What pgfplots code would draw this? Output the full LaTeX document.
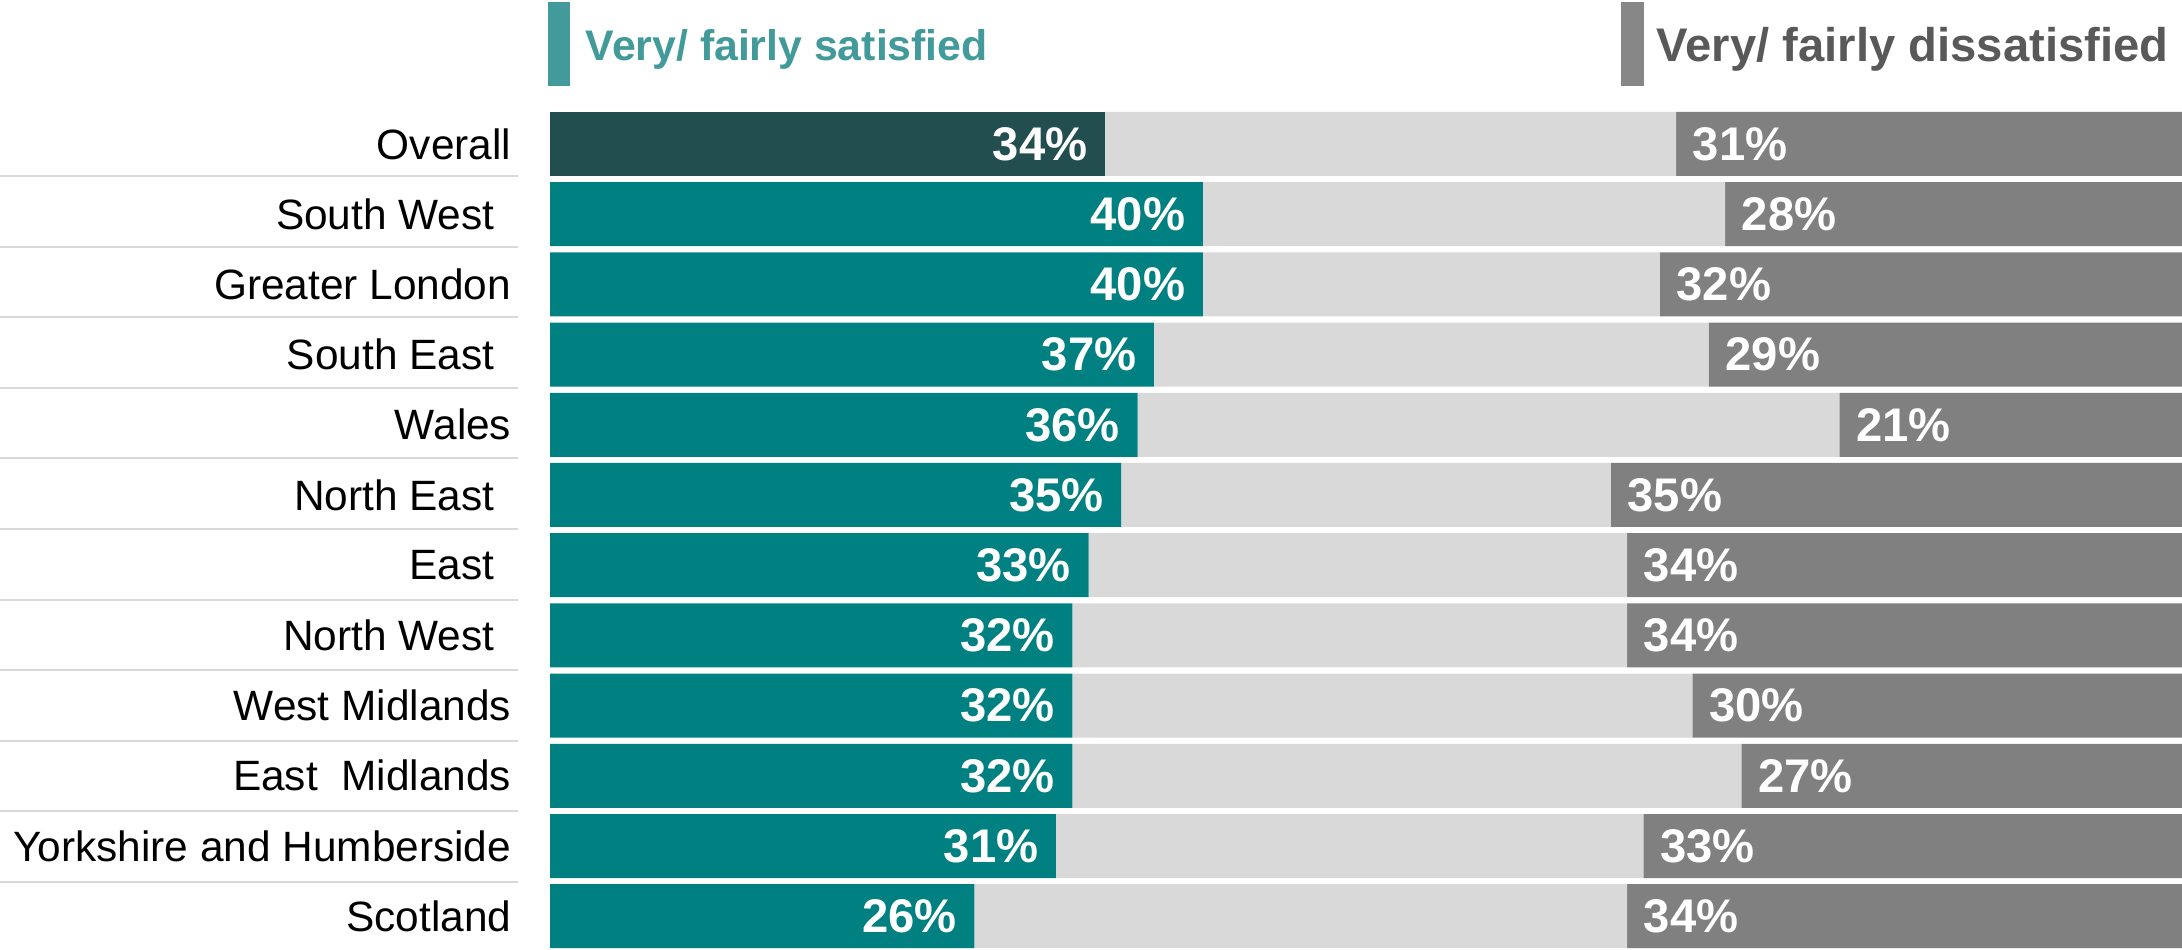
\documentclass[border=0pt]{standalone}
\usepackage{pgfplots}
\pgfplotsset{compat=1.18}
\usepackage{pgfplotstable}
\usepackage{fontspec}
\setmainfont{Liberation Sans}
\definecolor{tealbar}{RGB}{0,128,128}
\definecolor{overallbar}{RGB}{34,78,79}
\definecolor{neutral}{RGB}{217,217,217}
\definecolor{dissat}{RGB}{128,128,128}
\definecolor{legteal}{RGB}{66,154,154}
\definecolor{legrect}{RGB}{135,135,135}
\definecolor{legtext}{RGB}{89,89,89}
\definecolor{sepline}{RGB}{217,217,217}

% idx: 0 = Overall ... 11 = Scotland ; s = satisfied, n = neither, d = dissatisfied
\pgfplotstableread{
idx s n d
0 34 35 31
1 40 32 28
2 40 28 32
3 37 34 29
4 36 43 21
5 35 30 35
6 33 33 34
7 32 34 34
8 32 38 30
9 32 41 27
10 31 36 33
11 26 40 34
}\data

\pgfplotsset{mybase/.style={
  scale only axis, width=408pt, height=210.6pt,
  at={(137.5pt,-0.325pt)}, anchor=south west,
  xmin=0, xmax=100, ymin=-0.5, ymax=11.5, y dir=reverse,
  axis line style={draw=none}, tick style={draw=none},
  xtick=\empty, clip=false}}

\newcommand{\trsp}{\kern4.2pt}

\begin{document}
\begin{tikzpicture}
% separator lines and legend (pixel coordinates, origin top-left)
\begin{scope}[x=0.25pt,y=-0.25pt,yshift=237.5pt]
  \foreach \k in {0,...,10}{
    \draw[sepline, line width=0.5pt] (0,{176+70.6*\k}) -- (518,{176+70.6*\k});
  }
  \fill[legteal] (548,2) rectangle (570,86);
  \node[anchor=base west, inner sep=0pt, text=legteal, font=\fontsize{10.7}{13}\selectfont\bfseries] at (585,61) {Very/ fairly satisfied};
  \fill[legrect] (1621,2) rectangle (1644,86);
  \node[anchor=base west, inner sep=0pt, text=legtext, font=\fontsize{11.8}{14}\selectfont\bfseries] at (1656,62) {Very/ fairly dissatisfied};
\end{scope}

\begin{axis}[mybase,
  xbar stacked, bar width=16pt,
  ytick={0,...,11},
  yticklabels={Overall, South West\trsp, Greater London, South East\trsp, Wales, North East\trsp, East\trsp, North West\trsp, West Midlands, East\ \ Midlands, Yorkshire and Humberside, Scotland},
  yticklabel style={font=\fontsize{10.6}{12}\selectfont, inner sep=0pt, xshift=-9.5pt, text=black},
]
\addplot[fill=overallbar, draw=none] table[x expr={\thisrow{idx}==0 ? \thisrow{s} : 0}, y=idx] {\data};
\addplot[fill=tealbar, draw=none] table[x expr={\thisrow{idx}==0 ? 0 : \thisrow{s}}, y=idx] {\data};
\addplot[fill=neutral, draw=none] table[x=n, y=idx] {\data};
\addplot[fill=dissat, draw=none] table[x=d, y=idx] {\data};
\end{axis}

\begin{axis}[mybase, ytick=\empty, point meta=explicit symbolic]
\addplot[draw=none, mark=none, nodes near coords={\pgfplotspointmeta\%},
  every node near coord/.append style={anchor=east, xshift=-4.2pt, inner sep=0pt, text=white, font=\fontsize{11.8}{13}\selectfont\bfseries}]
  table[x=s, y=idx, meta=s] {\data};
\addplot[draw=none, mark=none, nodes near coords={\pgfplotspointmeta\%},
  every node near coord/.append style={anchor=west, xshift=4.0pt, inner sep=0pt, text=white, font=\fontsize{11.8}{13}\selectfont\bfseries}]
  table[x expr={100-\thisrow{d}}, y=idx, meta=d] {\data};
\end{axis}

\pgfresetboundingbox
\path[use as bounding box] (0,0) rectangle (545.5pt,237.5pt);
\end{tikzpicture}
\end{document}
